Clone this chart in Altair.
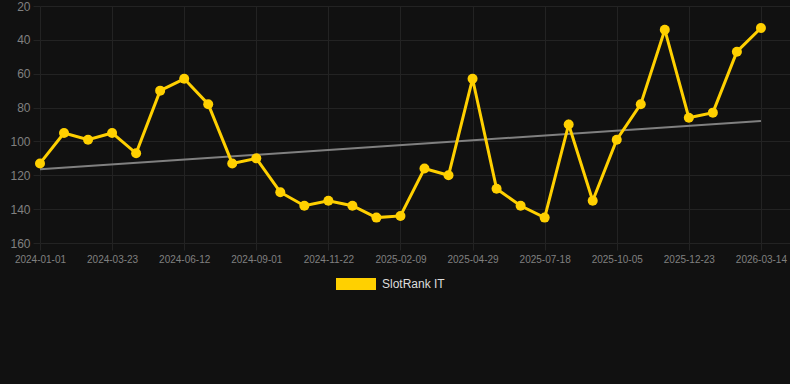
import json
import altair as alt
import pandas as pd

dates = [
    "2024-01-01", "2024-01-28", "2024-02-24", "2024-03-23", "2024-04-19",
    "2024-05-16", "2024-06-12", "2024-07-09", "2024-08-05", "2024-09-01",
    "2024-09-28", "2024-10-25", "2024-11-22", "2024-12-18", "2025-01-14",
    "2025-02-09", "2025-03-07", "2025-04-02", "2025-04-29", "2025-05-25",
    "2025-06-21", "2025-07-18", "2025-08-13", "2025-09-09", "2025-10-05",
    "2025-10-31", "2025-11-27", "2025-12-23", "2026-01-19", "2026-02-15",
    "2026-03-14",
]
ranks = [113, 95, 99, 95, 107, 70, 63, 78, 113, 110, 130, 138, 135, 138, 145,
         144, 116, 120, 63, 128, 138, 145, 90, 135, 99, 78, 34, 86, 83, 47, 33]
series_name = "SlotRank IT"
y_ticks = [20, 40, 60, 80, 100, 120, 140, 160]
x_tick_idx = list(range(0, 31, 3))

df = pd.DataFrame({
    "idx": list(range(len(dates))),
    "date": dates,
    "rank": ranks,
    "series": [series_name] * len(dates),
})

GOLD = "#FFD000"
GRID = "#232323"
LABEL = "#808080"
FONT = "Liberation Sans"

x_enc = alt.X(
    "idx:Q",
    scale=alt.Scale(domain=[0, 31.21], nice=False, zero=False),
    axis=alt.Axis(
        values=x_tick_idx,
        labelExpr=json.dumps(dates) + "[datum.value]",
        title=None, grid=True, domain=False,
        tickSize=7, tickColor=GRID, labelPadding=4,
        labelFontSize=10, labelColor=LABEL, labelFont=FONT,
        labelFlush=False, labelOverlap=False,
    ),
)
y_enc = alt.Y(
    "rank:Q",
    scale=alt.Scale(domain=[20, 160], reverse=True, nice=False, zero=False),
    axis=alt.Axis(
        values=y_ticks, title=None, grid=True, domain=False,
        tickSize=7, tickColor=GRID, labelPadding=3,
        labelFontSize=12, labelColor=LABEL, labelFont=FONT,
        labelFlush=False, labelOverlap=False,
    ),
)

base = alt.Chart(df)

trend = base.transform_regression("idx", "rank").mark_line(
    color="#808080", strokeWidth=2
).encode(x=x_enc, y=y_enc)

line = base.mark_line(color=GOLD, strokeWidth=3).encode(x=x_enc, y=y_enc)

points = base.mark_circle(size=100, opacity=1).encode(
    x=x_enc, y=y_enc,
    color=alt.Color(
        "series:N",
        scale=alt.Scale(domain=[series_name], range=[GOLD]),
        legend=alt.Legend(
            title=None, orient="none", legendX=296, legendY=258,
            symbolType="M-1,-0.3H1V0.3H-1Z", symbolSize=1600,
            symbolStrokeWidth=0, symbolOpacity=1,
            labelFontSize=12, labelColor="#dddddd", labelFont=FONT,
            labelOffset=6, padding=0,
        ),
    ),
)

chart = alt.layer(trend, line, points).properties(
    width=750, height=237,
    autosize=alt.AutoSizeParams(type="none"),
    padding={"left": 40, "top": 6, "right": 0, "bottom": 141},
    background="#111111",
).configure_view(stroke=None).configure_axis(gridColor=GRID, gridWidth=1)

chart.save("out.html", embed_options={"renderer": "svg", "actions": False})
